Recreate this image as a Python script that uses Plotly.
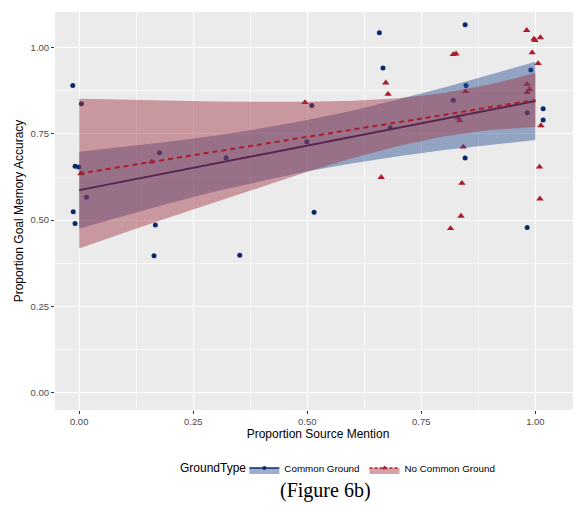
import plotly.graph_objects as go

# ---------------- data ----------------
cg_x = [-0.014, 0.005, -0.009, -0.001, 0.016, -0.013, -0.009, 0.176, 0.167, 0.322,
        0.164, 0.352, 0.510, 0.499, 0.515, 0.658, 0.666, 0.682, 0.846, 0.848,
        0.820, 0.846, 0.990, 1.017, 0.982, 1.017, 0.982]
cg_y = [0.890, 0.837, 0.656, 0.654, 0.566, 0.524, 0.490, 0.695, 0.486, 0.681,
        0.397, 0.398, 0.832, 0.727, 0.523, 1.043, 0.941, 0.768, 1.066, 0.890,
        0.847, 0.680, 0.935, 0.823, 0.811, 0.790, 0.479]

ncg_x = [0.004, 0.159, 0.495, 0.662, 0.672, 0.677, 0.820, 0.826, 0.847, 0.830,
         0.834, 0.842, 0.839, 0.837, 0.814, 0.981, 0.997, 0.999, 1.011, 0.993,
         1.006, 0.982, 0.987, 0.982, 1.012, 1.009, 1.010]
ncg_y = [0.635, 0.669, 0.841, 0.624, 0.898, 0.865, 0.980, 0.982, 0.873, 0.797,
         0.788, 0.712, 0.607, 0.512, 0.476, 1.050, 1.025, 1.021, 1.029, 0.985,
         0.954, 0.894, 0.879, 0.870, 0.774, 0.654, 0.562]

# linear-fit lines and 95% confidence bands, read at a grid of x values
grid_x = [0.0, 0.1, 0.2, 0.3, 0.4, 0.5, 0.6, 0.7, 0.8, 0.9, 1.0]
cg_fit = [0.587, 0.613, 0.639, 0.664, 0.690, 0.716, 0.742, 0.768, 0.793, 0.819, 0.845]
cg_lo = [0.476, 0.514, 0.550, 0.584, 0.614, 0.642, 0.665, 0.685, 0.703, 0.718, 0.732]
cg_hi = [0.698, 0.712, 0.728, 0.745, 0.766, 0.790, 0.818, 0.850, 0.884, 0.921, 0.959]
ncg_fit = [0.635, 0.656, 0.678, 0.699, 0.720, 0.742, 0.763, 0.784, 0.805, 0.827, 0.848]
ncg_lo = [0.418, 0.464, 0.509, 0.553, 0.597, 0.640, 0.680, 0.715, 0.743, 0.761, 0.770]
ncg_hi = [0.852, 0.849, 0.846, 0.844, 0.843, 0.843, 0.846, 0.853, 0.868, 0.893, 0.926]

x_ticks = [0.0, 0.25, 0.5, 0.75, 1.0]
y_ticks = [0.0, 0.25, 0.5, 0.75, 1.0]
group_names = ["Common Ground", "No Common Ground"]

# ---------------- styles ----------------
BLUE_PT = "#0b2a6b"
RED_PT = "#ad1a2c"
BLUE_LINE = "#1c1a5c"
RED_LINE = "#b01b2b"
BLUE_FILL = "rgba(40,75,145,0.45)"
RED_FILL = "rgba(160,50,65,0.45)"
FONT = "Liberation Sans, Arial, sans-serif"

fig = go.Figure()

# points first (bands drawn on top, as in ggplot)
fig.add_trace(go.Scatter(x=cg_x, y=cg_y, mode="markers", showlegend=False,
                         marker=dict(symbol="circle", size=5, color=BLUE_PT)))
fig.add_trace(go.Scatter(x=ncg_x, y=ncg_y, mode="markers", showlegend=False,
                         marker=dict(symbol="triangle-up", size=6.5, color=RED_PT)))

# Common Ground band + line
fig.add_trace(go.Scatter(x=grid_x + grid_x[::-1], y=cg_hi + cg_lo[::-1],
                         fill="toself", fillcolor=BLUE_FILL, mode="lines",
                         line=dict(width=0), showlegend=False, hoverinfo="skip"))
fig.add_trace(go.Scatter(x=grid_x, y=cg_fit, mode="lines", showlegend=False,
                         line=dict(color=BLUE_LINE, width=2)))
# No Common Ground band + line
fig.add_trace(go.Scatter(x=grid_x + grid_x[::-1], y=ncg_hi + ncg_lo[::-1],
                         fill="toself", fillcolor=RED_FILL, mode="lines",
                         line=dict(width=0), showlegend=False, hoverinfo="skip"))
fig.add_trace(go.Scatter(x=grid_x, y=ncg_fit, mode="lines", showlegend=False,
                         line=dict(color=RED_LINE, width=2, dash="5px,4px")))

# legend-only entries
fig.add_trace(go.Scatter(x=[None], y=[None], name=group_names[0], mode="lines+markers",
                         fill="toself", fillcolor=BLUE_FILL,
                         line=dict(color=BLUE_PT, width=1.5),
                         marker=dict(symbol="circle", size=4, color=BLUE_PT)))
fig.add_trace(go.Scatter(x=[None], y=[None], name=group_names[1], mode="lines+markers",
                         fill="toself", fillcolor=RED_FILL,
                         line=dict(color=RED_LINE, width=1.5, dash="3px,2px"),
                         marker=dict(symbol="triangle-up", size=5, color=RED_PT)))

axis_common = dict(
    showgrid=True, gridcolor="white", gridwidth=1.1,
    zeroline=False, showline=False, automargin=False,
    ticks="outside", ticklen=3, tickwidth=1, tickcolor="#333333",
    tickfont=dict(family=FONT, size=9.5, color="#4d4d4d"),
    tickformat=".2f",
    minor=dict(showgrid=True, gridcolor="#f7f7f7", gridwidth=0.5, ticks=""),
)

# the page body has an 8px margin, so the figure is sized to fit inside the window
fig.update_layout(
    width=573, height=494,
    margin=dict(l=47, r=0, t=4, b=92),
    paper_bgcolor="white", plot_bgcolor="#ebebeb",
    font=dict(family=FONT, color="black"),
    xaxis=dict(**axis_common, range=[-0.053, 1.100], tickvals=x_ticks,
               title=dict(text="Proportion Source Mention", standoff=2,
                          font=dict(family=FONT, size=12, color="black"))),
    yaxis=dict(**axis_common, range=[-0.050, 1.103], tickvals=y_ticks,
               title=dict(text="Proportion Goal Memory Accuracy", standoff=4,
                          font=dict(family=FONT, size=12, color="black"))),
    legend=dict(orientation="h", x=0.36, xanchor="left", y=-0.146, yanchor="middle",
                font=dict(family=FONT, size=9.8, color="black"),
                itemwidth=30, bgcolor="rgba(0,0,0,0)", tracegroupgap=0),
    annotations=[
        dict(text="GroundType", xref="paper", yref="paper",
             x=0.234, y=-0.146, xanchor="left", yanchor="middle", showarrow=False,
             font=dict(family=FONT, size=12, color="black")),
        dict(text="(Figure 6b)", xref="paper", yref="paper",
             x=0.515, y=-0.203, xanchor="center", yanchor="middle",
             showarrow=False,
             font=dict(family="Liberation Serif, Times New Roman, serif",
                       size=20, color="black"))],
)
fig.update_xaxes(minor=dict(tick0=0.125, dtick=0.25))
fig.update_yaxes(minor=dict(tick0=0.125, dtick=0.25))

fig.write_html("out.html")
